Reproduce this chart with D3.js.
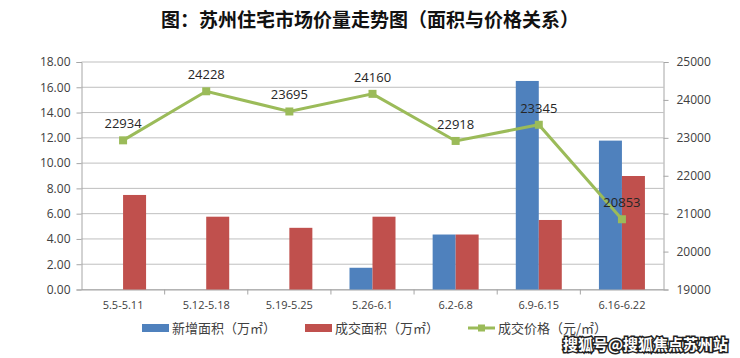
<!DOCTYPE html>
<html>
<head>
<meta charset="utf-8">
<script src="https://cdn.jsdelivr.net/npm/d3@7"></script>
<style>
  body { margin: 0; background: #fff; }
  svg { display: block; }
  .axis text { font-family: "Open Sans", "Liberation Sans", sans-serif; font-size: 12px; fill: #404040; }
  .axis path, .axis line { stroke: #a6a6a6; }
</style>
</head>
<body>
<div id="chart"></div>
<script>
// data
var categories = ["5.5-5.11", "5.12-5.18", "5.19-5.25", "5.26-6.1", "6.2-6.8", "6.9-6.15", "6.16-6.22"];
var newArea = [0, 0, 0, 1.72, 4.35, 16.5, 11.78];
var soldArea = [7.48, 5.76, 4.88, 5.76, 4.35, 5.5, 8.98];
var price = [22934, 24228, 23695, 24160, 22918, 23345, 20853];
var leftTicks = [0, 2, 4, 6, 8, 10, 12, 14, 16, 18];
var rightTicks = [19000, 20000, 21000, 22000, 23000, 24000, 25000];
var seriesNames = ["新增面积（万㎡）", "成交面积（万㎡）", "成交价格（元/㎡）"];

var W = 740, H = 358;
var margin = {top: 62, right: 76.5, bottom: 68.5, left: 81.5};
var width = W - margin.left - margin.right;
var height = H - margin.top - margin.bottom;

var svg = d3.select("#chart").append("svg")
    .attr("width", W)
    .attr("height", H);

// title
svg.append("text")
    .attr("x", 370)
    .attr("y", 27)
    .attr("text-anchor", "middle")
    .style("font-family", "'Noto Sans CJK SC', sans-serif")
    .style("font-weight", "bold")
    .style("font-size", "19px")
    .style("fill", "#111")
    .text("图：苏州住宅市场价量走势图（面积与价格关系）");

var g = svg.append("g")
    .attr("transform", "translate(" + margin.left + "," + margin.top + ")");

var x = d3.scaleBand().domain(categories).range([0, width]);
var y = d3.scaleLinear().domain([0, 18]).range([height, 0]);
var y2 = d3.scaleLinear().domain([19000, 25000]).range([height, 0]);

// grid lines
g.selectAll(".grid")
    .data(leftTicks)
    .enter().append("line")
    .attr("x1", 0)
    .attr("x2", width)
    .attr("y1", function (d) { return y(d); })
    .attr("y2", function (d) { return y(d); })
    .attr("stroke", "#bfbfbf")
    .attr("stroke-width", 1);

// axes
g.append("g")
    .attr("class", "axis")
    .call(d3.axisLeft(y).tickValues(leftTicks).tickSize(5).tickPadding(6)
        .tickFormat(d3.format(".2f")));

g.append("g")
    .attr("class", "axis")
    .attr("transform", "translate(" + width + ",0)")
    .call(d3.axisRight(y2).tickValues(rightTicks).tickSize(5).tickPadding(8)
        .tickFormat(d3.format("d")));

var xAxis = g.append("g")
    .attr("class", "axis")
    .attr("transform", "translate(0," + height + ")")
    .call(d3.axisBottom(x).tickSize(0).tickPadding(12));
xAxis.selectAll("text").style("font-size", "11px");
// category boundary ticks
xAxis.selectAll(".bound")
    .data(categories.slice(1))
    .enter().append("line")
    .attr("x1", function (d) { return x(d); })
    .attr("x2", function (d) { return x(d); })
    .attr("y1", 0)
    .attr("y2", 5)
    .attr("stroke", "#a6a6a6");

// bars
var barW = 23;
g.selectAll(".newBar")
    .data(newArea)
    .enter().append("rect")
    .attr("x", function (d, i) { return x(categories[i]) + x.bandwidth() / 2 - barW; })
    .attr("y", function (d) { return y(d); })
    .attr("width", barW)
    .attr("height", function (d) { return height - y(d); })
    .attr("fill", "#4f81bd");

g.selectAll(".soldBar")
    .data(soldArea)
    .enter().append("rect")
    .attr("x", function (d, i) { return x(categories[i]) + x.bandwidth() / 2; })
    .attr("y", function (d) { return y(d); })
    .attr("width", barW)
    .attr("height", function (d) { return height - y(d); })
    .attr("fill", "#c0504d");

// price line
var line = d3.line()
    .x(function (d, i) { return x(categories[i]) + x.bandwidth() / 2; })
    .y(function (d) { return y2(d); });

g.append("path")
    .datum(price)
    .attr("d", line)
    .attr("fill", "none")
    .attr("stroke", "#9bbb59")
    .attr("stroke-width", 3);

g.selectAll(".marker")
    .data(price)
    .enter().append("rect")
    .attr("x", function (d, i) { return x(categories[i]) + x.bandwidth() / 2 - 4; })
    .attr("y", function (d) { return y2(d) - 4; })
    .attr("width", 8)
    .attr("height", 8)
    .attr("fill", "#9bbb59");

g.selectAll(".plabel")
    .data(price)
    .enter().append("text")
    .attr("x", function (d, i) { return x(categories[i]) + x.bandwidth() / 2; })
    .attr("y", function (d) { return y2(d) - 12; })
    .attr("text-anchor", "middle")
    .style("font-family", "'Open Sans', 'Liberation Sans', sans-serif")
    .style("font-size", "13px")
    .style("fill", "#262626")
    .text(function (d) { return d; });

// legend
var legend = svg.append("g").attr("transform", "translate(0,328)");
var legX = [142, 305, 468];
var legColors = ["#4f81bd", "#c0504d", "#9bbb59"];
seriesNames.forEach(function (name, i) {
    if (i < 2) {
        legend.append("rect")
            .attr("x", legX[i])
            .attr("y", -4)
            .attr("width", 27)
            .attr("height", 8)
            .attr("fill", legColors[i]);
    } else {
        legend.append("line")
            .attr("x1", legX[i]).attr("x2", legX[i] + 27)
            .attr("y1", 0).attr("y2", 0)
            .attr("stroke", legColors[i])
            .attr("stroke-width", 3);
        legend.append("rect")
            .attr("x", legX[i] + 10).attr("y", -3.5)
            .attr("width", 7).attr("height", 7)
            .attr("fill", legColors[i]);
    }
    legend.append("text")
        .attr("x", legX[i] + 30)
        .attr("y", 5)
        .style("font-family", "'Noto Sans CJK SC', sans-serif")
        .style("font-size", "13px")
        .style("fill", "#404040")
        .text(name);
});

// watermark
svg.append("text")
    .attr("x", 728)
    .attr("y", 350)
    .attr("text-anchor", "end")
    .style("font-family", "'Noto Sans CJK SC', sans-serif")
    .style("font-weight", "bold")
    .style("font-size", "15px")
    .style("fill", "#fff")
    .style("stroke", "#222")
    .style("stroke-width", 3)
    .style("paint-order", "stroke")
    .text("搜狐号@搜狐焦点苏州站");
</script>
</body>
</html>
